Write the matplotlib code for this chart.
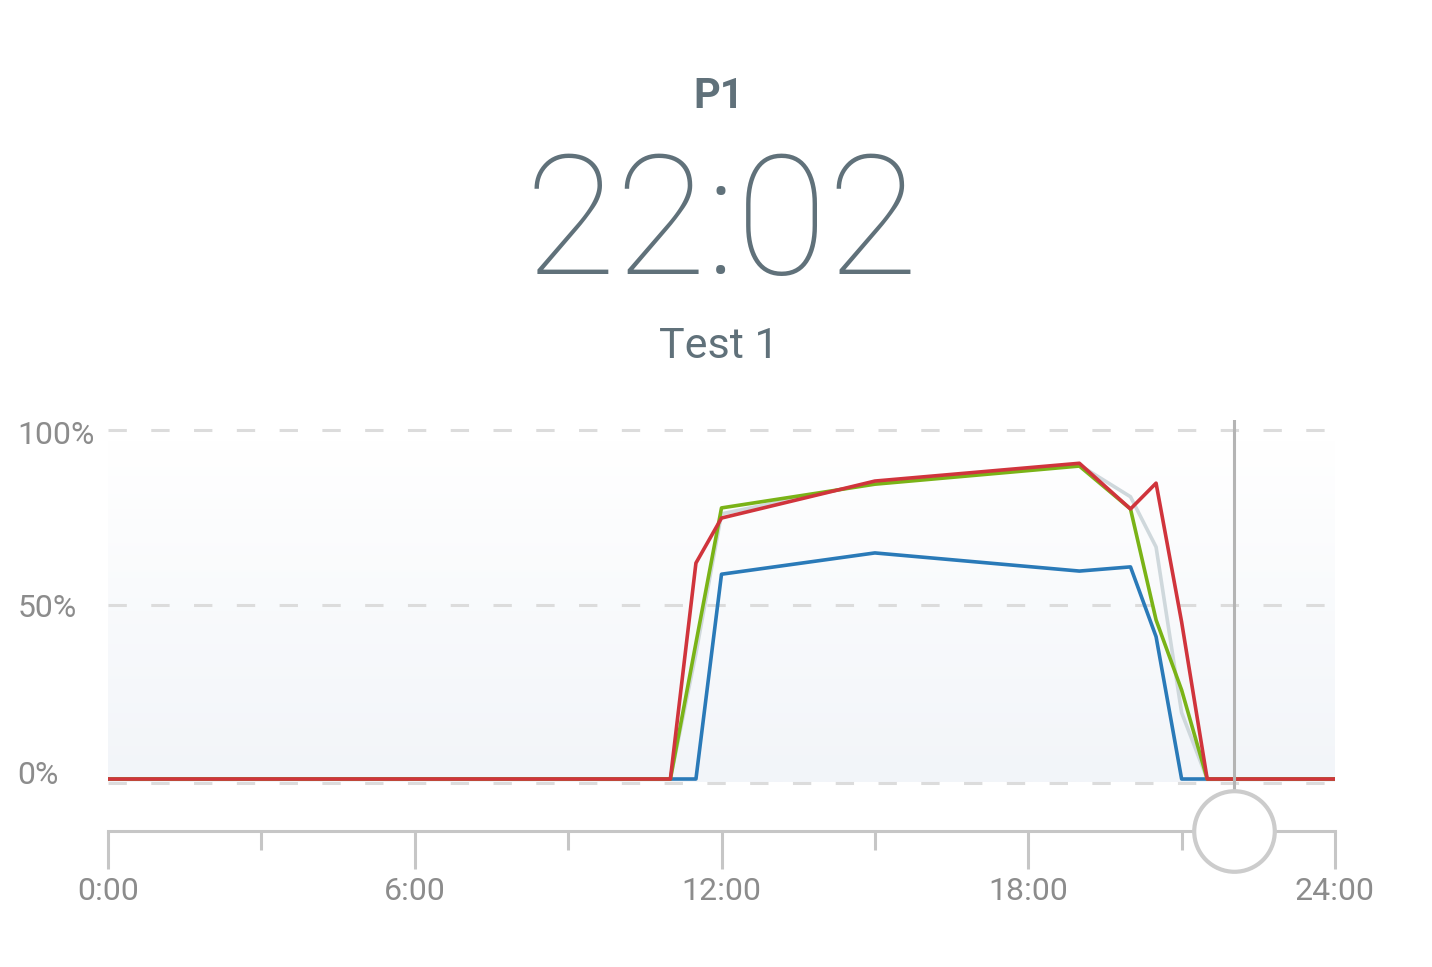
import matplotlib.pyplot as plt
import matplotlib.transforms as mtransforms
import numpy as np
from matplotlib.colors import LinearSegmentedColormap

# time of each sample, in hours
hours = [0, 11, 11.5, 12, 15, 19, 20, 20.5, 21, 21.5, 24]

# series values in percent
blue_vals = [0, 0, 0, 58.7, 64.8, 59.6, 60.8, 40.8, 0, 0, 0]
green_vals = [0, 0, 39, 77.7, 84.5, 89.7, 77.4, 45.6, 25.5, 0, 0]
red_vals = [0, 0, 61.9, 74.8, 85.4, 90.5, 77.4, 84.8, 45, 0, 0]
grey_vals = [0, 0, 36, 76, 85, 90, 80.9, 66.5, 19, 0, 0]

y_ticks = [0, 50, 100]
y_labels = ["0%", "50%", "100%"]
x_ticks = [0, 6, 12, 18, 24]
x_labels = ["0:00", "6:00", "12:00", "18:00", "24:00"]

title_top = "P1"
cursor_time = "22:02"
subtitle = "Test 1"

slate = "#60717a"
axis_grey = "#c6c6c6"
label_grey = "#8c8c8c"

plt.rcParams['font.family'] = ['Roboto', 'DejaVu Sans']

fig = plt.figure(figsize=(14.32, 9.67), dpi=100)
W, H = 1432, 967

# main plot area: x 108..1335 px, y 420..790 px
ax = fig.add_axes([108 / W, 1 - 790 / H, 1227 / W, 370 / H])
ax.set_xlim(0, 24)
ax.set_ylim(-3.15, 102.9)
for s in ax.spines.values():
    s.set_visible(False)

# soft background gradient
grad = np.linspace(0, 1, 200).reshape(-1, 1)
cmap = LinearSegmentedColormap.from_list("bg", ["#f2f5f9", "#ffffff"])
ax.imshow(grad, extent=[0, 24, -1, 97], origin="lower", aspect="auto",
          cmap=cmap, zorder=0)

for yv in y_ticks:
    ax.axhline(yv - (1.1 if yv == 0 else 0), color="#dcdcdc", lw=2.2,
               dashes=(6, 8), zorder=1)

ax.plot(hours, grey_vals, color="#cfd8dc", lw=2.6, zorder=2)
ax.plot(hours, blue_vals, color="#2a7ab8", lw=2.6, zorder=3)
ax.plot(hours, green_vals, color="#7ab317", lw=2.6, zorder=4)
ax.plot(hours, red_vals, color="#d0343c", lw=2.6, zorder=5)

hh, mm = cursor_time.split(":")
cursor_h = int(hh) + int(mm) / 60
ax.axvline(cursor_h, color="#b4b4b4", lw=2.2, zorder=6)

ax.set_xticks([])
ax.set_yticks(y_ticks)
ax.set_yticklabels(y_labels, fontsize=23, color=label_grey)
ax.tick_params(axis='y', length=0, pad=65)
# small vertical nudges (in points) so labels sit like the original
for t, dy in zip(ax.get_yticklabels(), [5, -1, -2]):
    t.set_horizontalalignment('left')
    t.set_transform(t.get_transform() +
                    mtransforms.ScaledTranslation(0, dy / 72, fig.dpi_scale_trans))

# time slider axis below the plot
ax2 = fig.add_axes([108 / W, 1 - 831 / H, 1227 / W, 0.001])
ax2.set_xlim(0, 24)
ax2.set_yticks([])
ax2.patch.set_visible(False)
for k in ["top", "left", "right"]:
    ax2.spines[k].set_visible(False)
ax2.spines["bottom"].set_color(axis_grey)
ax2.spines["bottom"].set_linewidth(2.2)
ax2.set_xticks(x_ticks)
ax2.set_xticklabels(x_labels, fontsize=23, color=label_grey)
ax2.set_xticks([3, 9, 15, 21], minor=True)
ax2.tick_params(axis='x', which='major', length=27, width=2.2,
                color=axis_grey, pad=6)
ax2.tick_params(axis='x', which='minor', length=14, width=2.2,
                color=axis_grey)
ax2.plot([cursor_h], [0], marker='o', markersize=58, markerfacecolor='white',
         markeredgecolor="#cccccc", markeredgewidth=3, clip_on=False, zorder=10)

# header
fig.text(719 / W, 1 - 108 / H, title_top, ha='center', va='baseline',
         fontsize=30, fontweight='bold', color=slate)
fig.text(722 / W, 1 - 274 / H, cursor_time, ha='center', va='baseline',
         fontsize=120, fontweight=100, color=slate)
fig.text(719 / W, 1 - 358 / H, subtitle, ha='center', va='baseline',
         fontsize=31, color=slate)

fig.savefig("out.png", dpi=100)
